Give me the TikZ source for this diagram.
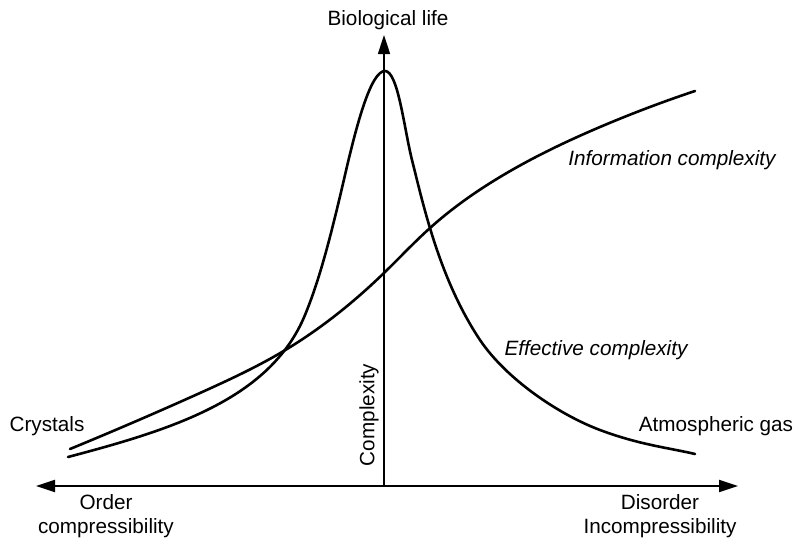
\documentclass[tikz,border=0pt]{standalone}
\usepackage{fontspec}
\setmainfont{Liberation Sans}
\usetikzlibrary{arrows.meta,hobby}
\begin{document}
\begin{tikzpicture}[x=1pt,y=-1pt,
  lbl/.style={font=\fontsize{20.7}{24}\selectfont, inner sep=0pt, align=center},
  ilbl/.style={lbl, font=\fontsize{20.7}{24}\selectfont\itshape},
  curve/.style={line width=2.6pt, line cap=round, line join=round},
  axis/.style={line width=2.2pt, -{Triangle[length=19pt,width=12pt]}}]
\useasboundingbox (0,0) rectangle (800,541);
% axes
\coordinate (O) at (384,486);
\coordinate (L) at (36,486);
\coordinate (R) at (738,486);
\coordinate (T) at (384,35);
\draw[axis] (O) -- (L);
\draw[axis] (O) -- (R);
\draw[axis, line width=1.6pt] (O) -- (T);
% information complexity
\draw[curve, use Hobby shortcut] (70,449) .. (200,393) .. (282,352) .. (385,272) .. (430,228) .. (500,177) .. (600,127) .. (695,91);
% effective complexity
\draw[curve] (68,457)
  .. controls (170,430) and (270,400) .. (305,315)
  .. controls (319,281) and (330,240) .. (345,175)
  .. controls (357,123) and (371,71) .. (385,71)
  .. controls (398,71) and (404,128) .. (412,160)
  .. controls (424,208) and (440,280) .. (480,340)
  .. controls (507,380) and (560,415) .. (600,430)
  .. controls (640,445) and (670,448) .. (695,454);
% labels
\node[lbl] (bio) at (388,20) {Biological life};
\node[lbl] (cry) at (47,426) {Crystals};
\node[lbl] (atm) at (716,426) {Atmospheric gas};
\node[lbl] (ord) at (106,516) {Order\\compressibility};
\node[lbl] (dis) at (660,516) {Disorder\\Incompressibility};
\node[ilbl] (inf) at (672,160) {Information complexity};
\node[ilbl] (eff) at (596,350) {Effective complexity};
\node[lbl, rotate=90] (cpx) at (369,415) {Complexity};
\end{tikzpicture}
\end{document}
